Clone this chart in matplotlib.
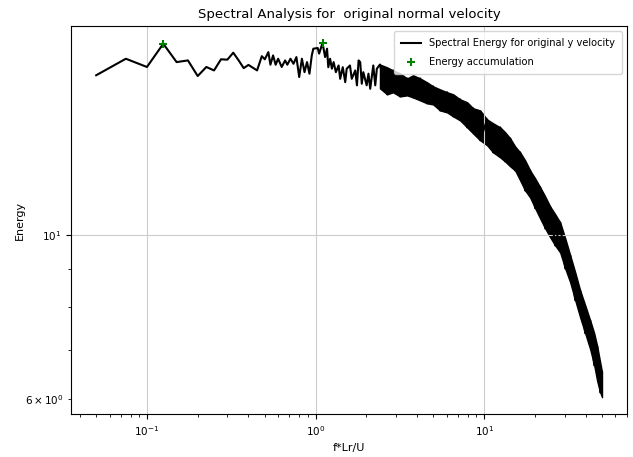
"""
Spectral energy of the original normal velocity, log-log view.
"""

import matplotlib
matplotlib.use("Agg")
import matplotlib.pyplot as plt
import numpy as np

freq_low = [0.05, 0.075, 0.1, 0.125, 0.15, 0.175, 0.2, 0.225, 0.25, 0.275,
            0.3, 0.325, 0.35, 0.375, 0.4, 0.45, 0.48, 0.5, 0.525, 0.54,
            0.56, 0.58, 0.6, 0.63, 0.66, 0.68, 0.71, 0.74, 0.77, 0.8,
            0.83, 0.86, 0.89, 0.92, 0.95, 0.97, 1.03, 1.05, 1.1, 1.14,
            1.17, 1.19, 1.22, 1.25, 1.28, 1.32, 1.37, 1.40, 1.45, 1.50,
            1.53, 1.60, 1.64, 1.72, 1.76, 1.80, 1.84, 1.88, 1.92, 2.01,
            2.06, 2.11, 2.20, 2.26, 2.31]
energy_low = [16.47, 17.34, 16.90, 18.17, 17.16, 17.25, 16.43, 16.90, 16.72, 17.31,
              17.29, 17.67, 17.25, 16.84, 17.01, 16.72, 17.48, 17.31, 17.70, 17.02,
              17.52, 17.02, 17.34, 16.90, 17.25, 17.02, 17.34, 17.07, 17.43, 16.38,
              17.34, 16.63, 17.16, 16.55, 17.52, 17.89, 17.93, 17.62, 18.21, 17.43,
              17.89, 16.89, 17.34, 16.81, 17.16, 16.63, 16.98, 16.29, 16.89, 16.12,
              16.81, 16.98, 16.29, 16.72, 15.96, 17.25, 17.16, 16.04, 16.63, 15.96,
              16.55, 15.79, 16.98, 15.96, 16.81]

# high-frequency part: the noise fills a band, upper and lower edge
freq_band = [2.41, 2.66, 2.88, 3.17, 3.49, 3.79, 4.17, 4.59, 4.98, 5.48,
             6.03, 6.55, 7.20, 7.93, 8.60, 9.47, 10.42, 11.31, 12.45, 13.32,
             14.27, 15.28, 16.35, 17.51, 18.75, 20.08, 21.49, 23.01, 24.64, 26.39,
             28.25, 30.25, 32.38, 34.68, 37.13, 39.76, 42.57, 44.95, 46.83, 48.79,
             50.0]
energy_upper = [17.03, 16.88, 16.72, 16.57, 16.31, 16.47, 16.31, 16.11, 15.91, 15.76,
                15.62, 15.52, 15.28, 15.14, 14.86, 14.76, 14.35, 14.18, 14.00, 13.79,
                13.53, 13.19, 12.95, 12.63, 12.24, 11.94, 11.62, 11.29, 10.94, 10.68,
                10.41, 9.91, 9.40, 8.91, 8.42, 8.04, 7.67, 7.37, 7.08, 6.73,
                6.53]
energy_lower = [15.81, 15.52, 15.62, 15.42, 15.47, 15.37, 15.23, 15.09, 15.04, 14.76,
                14.67, 14.49, 14.31, 14.00, 13.74, 13.45, 13.24, 12.95, 12.75, 12.59,
                12.40, 12.24, 11.87, 11.50, 11.25, 10.88, 10.54, 10.22, 9.94, 9.69,
                9.48, 9.02, 8.64, 8.17, 7.74, 7.37, 7.01, 6.67, 6.35, 6.13,
                6.04]

# energy accumulation points
peak_freq = [0.125, 1.1]
peak_energy = [18.17, 18.21]


def main():
    band_zigzag = [u if i % 2 == 0 else l
                   for i, (u, l) in enumerate(zip(energy_upper, energy_lower))]
    freq = np.array(freq_low + freq_band)
    energy = np.array(energy_low + band_zigzag)

    fig = plt.figure(figsize=(6.33, 4.57), dpi=100)
    ax = fig.add_axes([0.112, 0.094, 0.879, 0.849])

    ax.plot(freq, energy, "k-", label="Spectral Energy for original y velocity")
    ax.fill_between(freq_band, energy_lower, energy_upper, color="k", lw=1.0)
    ax.scatter(peak_freq, peak_energy, marker="+", color="g",
               label="Energy accumulation", zorder=3)

    ax.set_xscale("log")
    ax.set_yscale("log")
    ax.set_xlim(10 ** -1.451, 10 ** 1.849)
    ax.set_ylim(5.73, 19.2)

    ax.grid(color="#cccccc")
    ax.legend(loc="upper right", fontsize=7.1, labelspacing=0.85, borderpad=0.75)
    ax.set_xlabel("f*Lr/U", fontsize=8)
    ax.set_ylabel("Energy", fontsize=8, labelpad=0)
    ax.set_title("Spectral Analysis for  original normal velocity", fontsize=9.5)
    ax.tick_params(which="both", labelsize=7.5)

    fig.savefig("out.png", dpi=100)


if __name__ == "__main__":
    main()
